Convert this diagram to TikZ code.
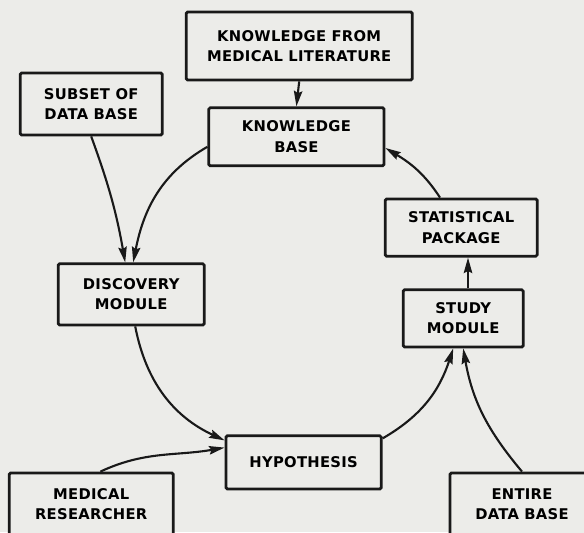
\documentclass[tikz,border=0pt]{standalone}
\usepackage{fontspec}
\newfontfamily\labelfont[LetterSpace=2]{DejaVu Sans Bold}
\usetikzlibrary{arrows.meta}
\definecolor{paper}{RGB}{236, 236, 233}
\definecolor{ink}{RGB}{25, 25, 25}

\begin{document}
\begin{tikzpicture}[
        box/.style={draw=ink, fill=paper, line width=2pt, rounded corners=1pt, align=center, inner sep=0pt,
                    font=\labelfont\fontsize{10.5}{14.5}\selectfont},
        flow/.style={draw=ink, line width=1.5pt, -{Stealth[length=11pt, width=6pt, inset=1.5pt]}}]
            \useasboundingbox (0,0) rectangle (14.6,13.3);
            \fill[paper] (0,0) rectangle (14.6,13.3);
            % boxes
            \node[box, minimum width=5.65cm, minimum height=1.70cm] (lit)    at ( 7.48, 12.15) {KNOWLEDGE FROM\\MEDICAL LITERATURE};
            \node[box, minimum width=4.38cm, minimum height=1.45cm] (kb)     at ( 7.41,  9.88) {KNOWLEDGE\\BASE};
            \node[box, minimum width=3.55cm, minimum height=1.55cm] (subset) at ( 2.28, 10.70) {SUBSET OF\\DATA BASE};
            \node[box, minimum width=3.65cm, minimum height=1.53cm] (disc)   at ( 3.28,  5.94) {DISCOVERY\\MODULE};
            \node[box, minimum width=3.80cm, minimum height=1.43cm] (stat)   at (11.53,  7.61) {STATISTICAL\\PACKAGE};
            \node[box, minimum width=3.00cm, minimum height=1.43cm] (study)  at (11.58,  5.34) {STUDY\\MODULE};
            \node[box, minimum width=3.88cm, minimum height=1.33cm] (hyp)    at ( 7.59,  1.74) {HYPOTHESIS};
            \node[box, minimum width=4.10cm, minimum height=1.55cm] (res)    at ( 2.28,  0.70) {MEDICAL\\RESEARCHER};
            \node[box, minimum width=3.60cm, minimum height=1.55cm] (entire) at (13.05,  0.70) {ENTIRE\\DATA BASE};
            % connectors
            \draw[flow] (lit.south) -- (kb.north);
            \draw[flow] ([yshift=-0.25cm]kb.west) to[out=210, in=79] ([xshift=0.05cm]disc.north);
            \draw[flow] (subset.south) to[out=-70, in=100] ([xshift=-0.15cm]disc.north);
            \draw[flow] ([xshift=0.10cm]disc.south) to[out=281, in=155] ([yshift=-0.15cm]hyp.north west);
            \draw[flow] ([xshift=0.23cm]res.north) to[out=25, in=190] ([yshift=-0.33cm]hyp.north west);
            \draw[flow] ([yshift=-0.10cm]hyp.north east) to[out=30, in=252] ([xshift=-0.25cm]study.south);
            \draw[flow] (entire.north) to[out=130, in=-80] (study.south);
            \draw[flow] ([xshift=0.12cm]study.north) -- ([xshift=0.17cm]stat.south);
            \draw[flow] ([xshift=-0.53cm]stat.north) to[out=123, in=329] ([yshift=-0.28cm]kb.east);
        \end{tikzpicture}
\end{document}
